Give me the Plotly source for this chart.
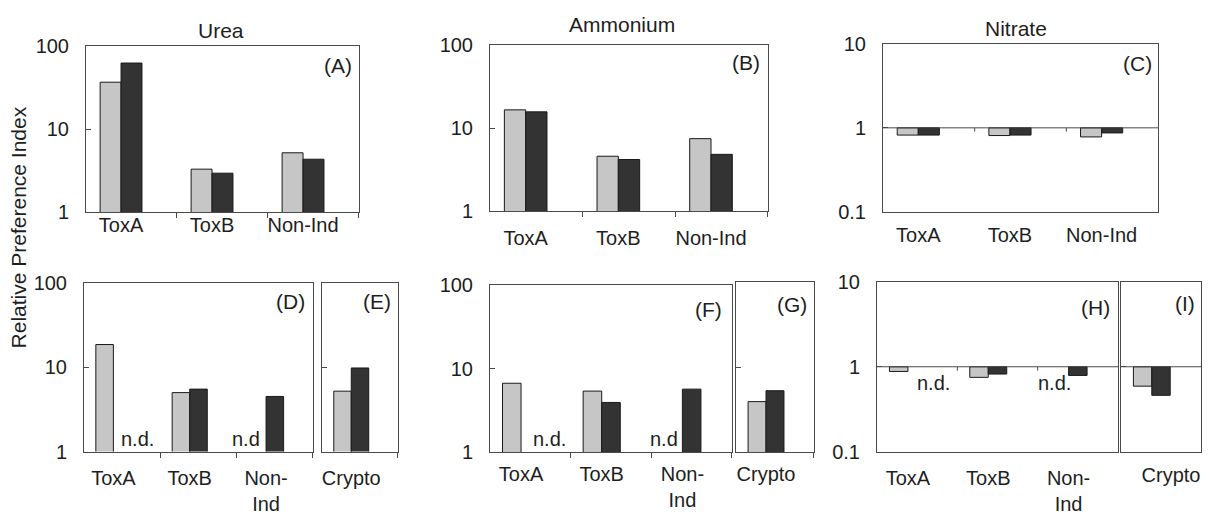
import plotly.graph_objects as go

# ---- data ---------------------------------------------------------------
categories = ["ToxA", "ToxB", "Non-Ind"]
categories_wrapped = ["ToxA", "ToxB", "Non-<br>Ind"]
crypto_label = ["Crypto"]

# top row: Urea / Ammonium / Nitrate (light bar, dark bar)
urea_light = [37.0, 3.3, 5.2]
urea_dark = [63.0, 2.95, 4.35]
ammonium_light = [16.7, 4.6, 7.5]
ammonium_dark = [15.8, 4.2, 4.85]
nitrate_light = [0.82, 0.81, 0.78]
nitrate_dark = [0.82, 0.82, 0.87]

# bottom row (None = not determined)
urea2_light = [18.6, 5.0, None]
urea2_dark = [None, 5.5, 4.5]
urea_crypto_light = [5.2]
urea_crypto_dark = [9.8]
ammonium2_light = [6.7, 5.4, None]
ammonium2_dark = [None, 3.95, 5.7]
ammonium_crypto_light = [3.95]
ammonium_crypto_dark = [5.3]
nitrate2_light = [0.88, 0.75, None]
nitrate2_dark = [None, 0.82, 0.79]
nitrate_crypto_light = [0.59]
nitrate_crypto_dark = [0.46]

# ---- styling --------------------------------------------------------------
W, H = 1215, 519
FONT = "Arial, Liberation Sans, sans-serif"
TXT = "#1e1e1e"
LINE = "#4a4a4a"
LIGHT = "#c6c6c6"
DARK = "#333333"
EDGE = "#1a1a1a"
LEFT_PAD = 0.385
TICK_SIZE = 20
LETTER_SIZE = 21
TITLE_SIZE = 21


def px_x(v):
    return v / W


def px_y(v):
    return 1 - v / H


# panel: letter, box (x0, y0, x1, y1) in px, labels, light, dark, scale, show y labels,
#        label standoff, letter offsets, n.d. positions
panels = [
    dict(letter="(A)", box=(86, 37, 359, 210), labels=categories, light=urea_light, dark=urea_dark,
         scale="hi", ylab=True, standoff=-5, off=(5, 6), nd=[]),
    dict(letter="(B)", box=(490, 36, 768, 209), labels=categories, light=ammonium_light, dark=ammonium_dark,
         scale="hi", ylab=True, standoff=9, off=(6, 4), nd=[]),
    dict(letter="(C)", box=(883, 34, 1158, 210), labels=categories, light=nitrate_light, dark=nitrate_dark,
         scale="lo", ylab=True, standoff=5, off=(4, 6), nd=[]),
    dict(letter="(D)", box=(84, 284, 313, 460), labels=categories_wrapped, light=urea2_light, dark=urea2_dark,
         scale="hi", ylab=True, standoff=8, off=(6, 5), nd=[(0.317, "n.d."), (1.734, "n.d")]),
    dict(letter="(E)", box=(322, 284, 398, 460), labels=crypto_label, light=urea_crypto_light,
         dark=urea_crypto_dark, scale="hi", ylab=False, standoff=8, off=(5, 5), nd=[]),
    dict(letter="(F)", box=(490, 286, 732, 461), labels=categories_wrapped, light=ammonium2_light,
         dark=ammonium2_dark, scale="hi", ylab=True, standoff=4, off=(8, 11), nd=[(0.356, "n.d."), (1.771, "n.d")]),
    dict(letter="(G)", box=(736, 283, 814, 461), labels=crypto_label, light=ammonium_crypto_light,
         dark=ammonium_crypto_dark, scale="hi", ylab=False, standoff=4, off=(5, 9), nd=[]),
    dict(letter="(H)", box=(877, 283, 1118, 460), labels=categories_wrapped, light=nitrate2_light,
         dark=nitrate2_dark, scale="lo", ylab=True, standoff=8, off=(6, 12), nd=[(0.318, "n.d."), (1.824, "n.d.")]),
    dict(letter="(I)", box=(1121, 283, 1201, 460), labels=crypto_label, light=nitrate_crypto_light,
         dark=nitrate_crypto_dark, scale="lo", ylab=False, standoff=5, off=(4, 8), nd=[],
         labelpos=[0.24]),
]

fig = go.Figure()
annotations = []
shapes = []

for i, p in enumerate(panels, start=1):
    xa = "x" if i == 1 else f"x{i}"
    ya = "y" if i == 1 else f"y{i}"
    n = len(p["labels"])
    pos = list(range(n))
    x0, y0, x1, y1 = p["box"]

    if p["scale"] == "hi":
        # bars rising from 1
        fig.add_trace(go.Bar(x=pos, y=p["light"], name="light", marker=dict(color=LIGHT, line=dict(color=EDGE, width=1)),
                             xaxis=xa, yaxis=ya, showlegend=False))
        fig.add_trace(go.Bar(x=pos, y=p["dark"], name="dark", marker=dict(color=DARK, line=dict(color=EDGE, width=1)),
                             xaxis=xa, yaxis=ya, showlegend=False))
        yrange = [0, 2]
        tvals, ttext = [1, 10, 100], ["1", "10", "100"]
    else:
        # bars hanging down from 1 to the value
        for vals, col, nm in ((p["light"], LIGHT, "light"), (p["dark"], DARK, "dark")):
            base = [v if v is not None else None for v in vals]
            size = [1 - v if v is not None else None for v in vals]
            fig.add_trace(go.Bar(x=pos, y=size, base=base, name=nm,
                                 marker=dict(color=col, line=dict(color=EDGE, width=1)),
                                 xaxis=xa, yaxis=ya, showlegend=False))
        yrange = [-1, 1]
        tvals, ttext = [0.1, 1, 10], ["0.1", "1", "10"]
        # reference line at 1
        shapes.append(dict(type="line", xref=f"{xa} domain", yref=f"{ya} domain", x0=0, x1=1, y0=0.5, y1=0.5,
                           line=dict(color=LINE, width=1)))
        # group boundary ticks on the reference line
        for b in [k + 1 - LEFT_PAD for k in range(n - 1)]:
            shapes.append(dict(type="line", xref=xa, yref=f"{ya} domain", x0=b, x1=b, y0=0.5, y1=0.5 - 4 / (y1 - y0),
                               line=dict(color=LINE, width=1)))

    xaxis = dict(
        domain=[px_x(x0), px_x(x1)], anchor=ya, range=[-LEFT_PAD, n - LEFT_PAD],
        tickmode="array", tickvals=p.get("labelpos", pos), ticktext=p["labels"], ticks="",
        showline=True, mirror=True, linecolor=LINE, linewidth=1, showgrid=False, zeroline=False,
        tickfont=dict(family=FONT, size=TICK_SIZE, color=TXT), ticklabelstandoff=p["standoff"], fixedrange=True,
    )
    if p["scale"] == "hi":
        xaxis["minor"] = dict(tickmode="array", tickvals=[k + 1 - LEFT_PAD - 0.002 for k in range(n)],
                              ticks="outside", ticklen=5, tickcolor=LINE, tickwidth=1, showgrid=False)
    yaxis = dict(
        domain=[px_y(y1), px_y(y0)], anchor=xa, type="log", range=yrange,
        tickmode="array", tickvals=tvals, ticktext=ttext, showticklabels=p["ylab"],
        ticks="inside", ticklen=5, tickcolor=LINE, tickwidth=1,
        showline=True, mirror=True, linecolor=LINE, linewidth=1, showgrid=False, zeroline=False,
        tickfont=dict(family=FONT, size=TICK_SIZE, color=TXT), ticklabelstandoff=12, fixedrange=True,
    )
    key = "" if i == 1 else str(i)
    fig.update_layout(**{f"xaxis{key}": xaxis, f"yaxis{key}": yaxis})

    # panel letter
    dx, dy = p["off"]
    annotations.append(dict(text=p["letter"], xref=f"{xa} domain", yref=f"{ya} domain", x=1, y=1,
                            xanchor="right", yanchor="top", xshift=-dx, yshift=-dy, showarrow=False,
                            font=dict(family=FONT, size=LETTER_SIZE, color=TXT)))
    # not-determined markers
    for xpos, label in p["nd"]:
        if p["scale"] == "hi":
            annotations.append(dict(text=label, xref=xa, yref=f"{ya} domain", x=xpos, y=0, yanchor="bottom",
                                    yshift=0, showarrow=False, font=dict(family=FONT, size=TICK_SIZE, color=TXT)))
        else:
            annotations.append(dict(text=label, xref=xa, yref=f"{ya} domain", x=xpos, y=0.5, yanchor="top",
                                    yshift=-3, showarrow=False, font=dict(family=FONT, size=TICK_SIZE, color=TXT)))

# column titles
for text, cx, cy in (("Urea", 221, 20), ("Ammonium", 622, 14), ("Nitrate", 1016, 18)):
    annotations.append(dict(text=text, xref="paper", yref="paper", x=px_x(cx), y=px_y(cy),
                            xanchor="center", yanchor="middle", showarrow=False,
                            font=dict(family=FONT, size=TITLE_SIZE, color=TXT)))

# shared y-axis title
annotations.append(dict(text="Relative Preference Index", xref="paper", yref="paper", x=px_x(18), y=px_y(226),
                        xanchor="center", yanchor="middle", textangle=-90, showarrow=False,
                        font=dict(family=FONT, size=TITLE_SIZE, color=TXT)))

fig.update_layout(
    width=W, height=H, margin=dict(l=0, r=0, t=0, b=0),
    paper_bgcolor="white", plot_bgcolor="white",
    barmode="group", bargap=0.54, bargroupgap=0,
    annotations=annotations, shapes=shapes,
    font=dict(family=FONT, color=TXT),
)

fig.write_html("out.html")
